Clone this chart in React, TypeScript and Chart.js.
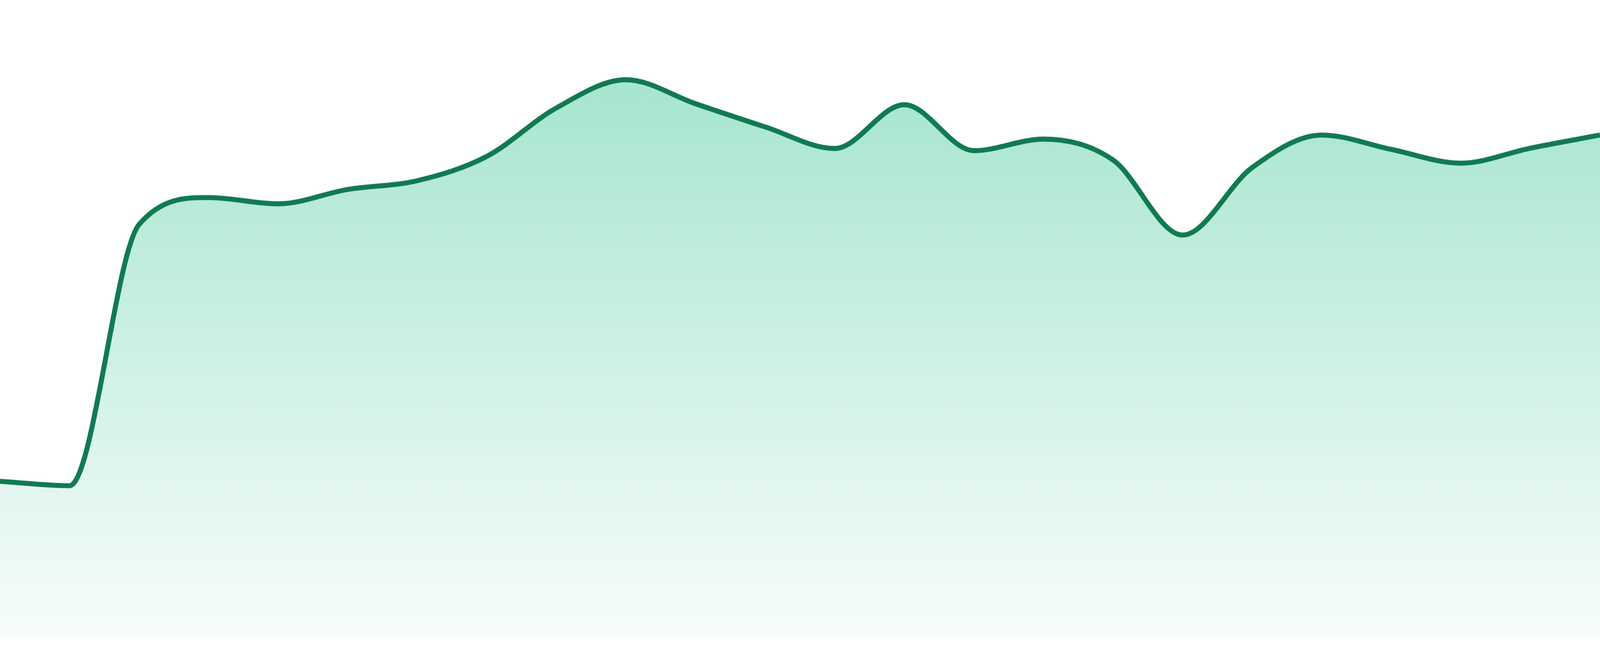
import React, { useEffect, useRef } from "react";
import { Chart, registerables } from "chart.js";

Chart.register(...registerables);

const categories: string[] = [
  "1", "2", "3", "4", "5", "6", "7", "8", "9", "10", "11", "12",
  "13", "14", "15", "16", "17", "18", "19", "20", "21", "22", "23", "24",
];

const seriesValues: number[] = [
  25.0, 24.3, 66.1, 70.4, 69.4, 71.7, 73.1, 77.0, 84.75, 89.25, 85.4, 81.7,
  78.25, 85.25, 77.9, 79.75, 76.4, 64.4, 75.2, 80.4, 78.1, 75.9, 78.3, 80.4,
];

const yMin = 0;
const yMax = 102;

export default function App() {
  const canvasRef = useRef<HTMLCanvasElement | null>(null);

  useEffect(() => {
    document.body.style.margin = "0";
    document.body.style.overflow = "hidden";
    document.body.style.background = "#ffffff";
    const canvas = canvasRef.current;
    if (!canvas) return;
    const scale = (window.innerWidth || 4800) / 4800;
    const chart = new Chart(canvas, {
      type: "line",
      data: {
        labels: categories,
        datasets: [
          {
            data: seriesValues,
            borderColor: "#117a50",
            borderWidth: 15 * scale,
            pointRadius: 0,
            pointHoverRadius: 0,
            cubicInterpolationMode: "monotone",
            fill: "origin",
            backgroundColor: (ctx: any) => {
              const c = ctx.chart;
              const area = c.chartArea;
              if (!area) return "rgba(16,185,129,0.2)";
              const g = c.ctx.createLinearGradient(0, area.top, 0, area.bottom);
              g.addColorStop(0, "rgba(16,185,129,0.42)");
              g.addColorStop(1, "rgba(16,185,129,0.03)");
              return g;
            },
          },
        ],
      },
      options: {
        animation: false,
        responsive: true,
        maintainAspectRatio: false,
        layout: { padding: 0, autoPadding: false },
        plugins: {
          legend: { display: false },
          tooltip: { enabled: false },
        },
        scales: {
          x: { display: false, offset: false },
          y: { display: false, min: yMin, max: yMax },
        },
      },
    });
    return () => chart.destroy();
  }, []);

  return (
    <div style={{ width: "100vw", height: "100vh", background: "#ffffff", overflow: "hidden" }}>
      <div style={{ position: "relative", width: "100vw", height: "97.14vh" }}>
        <canvas ref={canvasRef} />
      </div>
    </div>
  );
}
